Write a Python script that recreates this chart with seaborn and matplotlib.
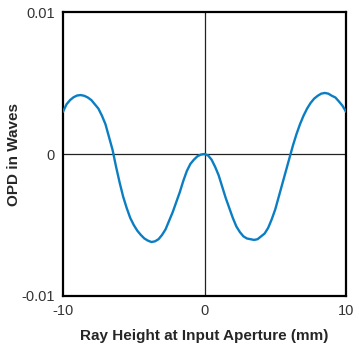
import matplotlib
matplotlib.use("Agg")
import matplotlib.pyplot as plt
import seaborn as sns
import pandas as pd

ray_height = [-10.0, -9.75, -9.5, -9.25, -9.0, -8.75, -8.5, -8.25, -8.0, -7.75,
              -7.5, -7.25, -7.0, -6.75, -6.5, -6.25, -6.0, -5.75, -5.5, -5.25,
              -5.0, -4.75, -4.5, -4.25, -4.0, -3.75, -3.5, -3.25, -3.0, -2.75,
              -2.5, -2.25, -2.0, -1.75, -1.5, -1.25, -1.0, -0.75, -0.5, -0.25,
              0.0, 0.25, 0.5, 0.75, 1.0, 1.25, 1.5, 1.75, 2.0, 2.25,
              2.5, 2.75, 3.0, 3.25, 3.5, 3.75, 4.0, 4.25, 4.5, 4.75,
              5.0, 5.25, 5.5, 5.75, 6.0, 6.25, 6.5, 6.75, 7.0, 7.25,
              7.5, 7.75, 8.0, 8.25, 8.5, 8.75, 9.0, 9.25, 9.5, 9.75, 10.0]
opd = [0.00298, 0.0035, 0.0038, 0.0040, 0.00412, 0.00415, 0.0041, 0.00398, 0.0038, 0.0035,
       0.0032, 0.0027, 0.0021, 0.0012, 0.0003, -0.0009, -0.0020, -0.0030, -0.0038, -0.0045,
       -0.0050, -0.0054, -0.0057, -0.00595, -0.0061, -0.0062, -0.00615, -0.0060, -0.0057, -0.0053,
       -0.0047, -0.0041, -0.0034, -0.0027, -0.0019, -0.0012, -0.0007, -0.0004, -0.00016, -0.00004,
       0.0, -0.0001, -0.0004, -0.0009, -0.0015, -0.0023, -0.0031, -0.0038, -0.0045, -0.0051,
       -0.0055, -0.0058, -0.00595, -0.0060, -0.00605, -0.0060, -0.0058, -0.0056, -0.0052, -0.0046,
       -0.0039, -0.0030, -0.0021, -0.0012, -0.0003, 0.0006, 0.0014, 0.0021, 0.0027, 0.0032,
       0.0036, 0.0039, 0.0041, 0.00425, 0.0043, 0.00425, 0.0041, 0.00398, 0.0037, 0.0034, 0.00298]
x_ticks = [-10, 0, 10]
x_tick_labels = ["-10", "0", "10"]
y_ticks = [-0.01, 0, 0.01]
y_tick_labels = ["-0.01", "0", "0.01"]

df = pd.DataFrame({"x": ray_height, "y": opd})

sns.set_style("white")
plt.rcParams["font.family"] = ["Liberation Sans", "DejaVu Sans"]

fig = plt.figure(figsize=(3.59, 3.5), dpi=100)
ax = fig.add_axes([0.1755, 0.1543, 0.7883, 0.8114])

ax.axhline(0, color="#222222", lw=0.9, zorder=1)
ax.axvline(0, color="#222222", lw=0.9, zorder=1)
sns.lineplot(data=df, x="x", y="y", ax=ax, color="#0b7ec3", lw=1.7, zorder=3)

ax.set_xlim(-10, 10)
ax.set_ylim(-0.01, 0.01)
ax.set_xticks(x_ticks)
ax.set_xticklabels(x_tick_labels)
ax.set_yticks(y_ticks)
ax.set_yticklabels(y_tick_labels)
ax.tick_params(length=0, labelsize=10.5, colors="#333333", pad=6)
for s in ax.spines.values():
    s.set_color("black")
    s.set_linewidth(1.6)

ax.set_xlabel("Ray Height at Input Aperture (mm)", fontsize=11, fontweight="bold", labelpad=8)
ax.set_ylabel("OPD in Waves", fontsize=11, fontweight="bold", labelpad=0)

fig.savefig("out.png", dpi=100)
